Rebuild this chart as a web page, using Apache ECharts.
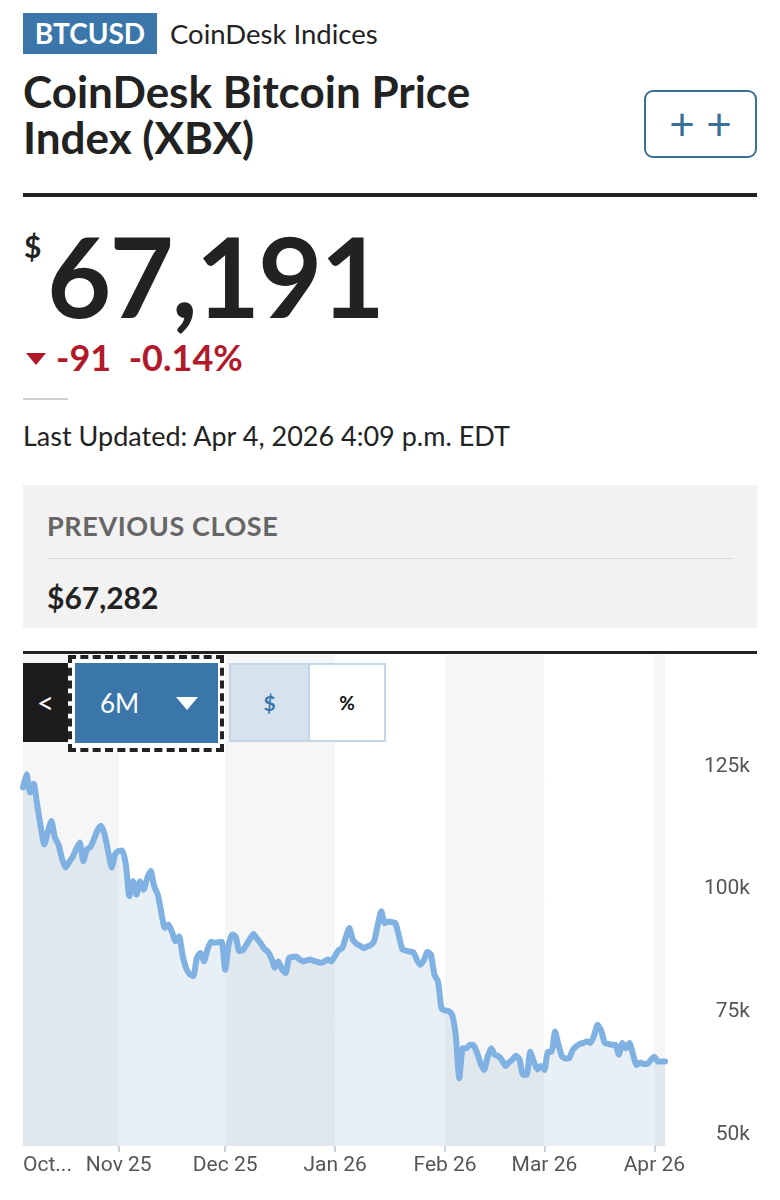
<!DOCTYPE html>
<html>
<head>
<meta charset="utf-8">
<script src="https://cdn.jsdelivr.net/npm/echarts@6/dist/echarts.min.js"></script>
<style>
  body { margin: 0; width: 780px; height: 1200px; background: #fff; font-family: Lato, "Noto Sans", sans-serif; color: #222; position: relative; overflow: hidden; }
  .abs { position: absolute; }
  .badge { left: 23px; top: 13px; width: 134px; height: 41px; background: #3a76aa; color: #fff; font-weight: bold; font-size: 28px; line-height: 41px; text-align: center; }
  .provider { left: 170px; top: 13px; font-size: 27.5px; line-height: 41px; }
  .title { left: 23px; top: 68px; font-size: 44px; font-weight: bold; line-height: 46px; }
  .addbtn { left: 644px; top: 90px; width: 109px; height: 64px; border: 2px solid #3a6f98; border-radius: 9px; color: #3a6f98; font-size: 44px; line-height: 62px; text-align: center; }
  .rule { left: 23px; width: 734px; background: #222; }
  .dollar { left: 24px; top: 228px; font-size: 30px; font-weight: bold; }
  .price { left: 47px; top: 205px; font-size: 111px; font-weight: bold; line-height: 140px; letter-spacing: -2px; }
  .change { left: 26px; top: 335px; font-size: 36px; font-weight: bold; color: #b2192b; line-height: 44px; }
  .tri { display: inline-block; width: 0; height: 0; border-left: 10px solid transparent; border-right: 10px solid transparent; border-top: 12px solid #b2192b; margin-right: 10px; vertical-align: middle; position: relative; top: -3px; }
  .updated { left: 23px; top: 419px; font-size: 27px; line-height: 34px; }
  .prevbox { left: 23px; top: 485px; width: 734px; height: 143px; background: #f2f2f2; }
  .prevlabel { left: 24px; top: 24px; font-size: 27px; font-weight: bold; color: #666; letter-spacing: 0.6px; line-height: 34px; }
  .prevline { left: 24px; top: 73px; width: 686px; height: 1px; background: #d8d8d8; }
  .prevval { left: 24px; top: 94px; font-size: 30px; font-weight: bold; line-height: 36px; }
  #chart { position: absolute; left: 0; top: 640px; width: 780px; height: 560px; }
  .ctl { z-index: 5; }
  .back { left: 23px; top: 663px; width: 45px; height: 79px; background: #1c1c1c; color: #fff; font-size: 30px; line-height: 79px; text-align: center; }
  .focus { left: 68px; top: 655px; width: 148px; height: 89px; border: 4px dashed #222; background: #fff; }
  .range { left: 75px; top: 663px; width: 143px; height: 80px; background: #3a76aa; color: #fff; }
  .range .lbl { position: absolute; left: 25px; top: 0; font-size: 26px; line-height: 80px; }
  .range .dd { position: absolute; left: 101px; top: 34px; width: 0; height: 0; border-left: 11px solid transparent; border-right: 11px solid transparent; border-top: 13px solid #fff; }
  .toggle { left: 229px; top: 663px; width: 153px; height: 75px; border: 2px solid #c5d7e7; background: #fff; }
  .toggle .usd { position: absolute; left: 0; top: 0; width: 77px; height: 75px; background: #d6e3ee; border-right: 2px solid #c5d7e7; color: #3a76aa; font-weight: bold; font-size: 21px; line-height: 75px; text-align: center; }
  .toggle .pct { position: absolute; left: 79px; top: 0; width: 74px; height: 75px; color: #111; font-weight: bold; font-size: 19px; line-height: 75px; text-align: center; }
</style>
</head>
<body>
<div class="abs badge">BTCUSD</div>
<div class="abs provider">CoinDesk Indices</div>
<div class="abs title">CoinDesk Bitcoin Price<br>Index (XBX)</div>
<div class="abs addbtn">+ +</div>
<div class="abs rule" style="top:193px;height:4px;"></div>
<div class="abs dollar">$</div>
<div class="abs price">67,191</div>
<div class="abs change"><span class="tri"></span>-91&nbsp;&nbsp;-0.14%</div>
<div class="abs" style="left:23px;top:398px;width:45px;height:2px;background:#cfcfcf;"></div>
<div class="abs updated">Last Updated: Apr 4, 2026 4:09 p.m. EDT</div>
<div class="abs prevbox">
  <div class="abs prevlabel">PREVIOUS CLOSE</div>
  <div class="abs prevline"></div>
  <div class="abs prevval">$67,282</div>
</div>
<div class="abs rule" style="top:651px;height:3px;"></div>
<div id="chart"></div>
<div class="abs ctl back">&lt;</div>
<div class="abs ctl focus"></div>
<div class="abs ctl range"><span class="lbl">6M</span><span class="dd"></span></div>
<div class="abs ctl toggle"><div class="usd">$</div><div class="pct">%</div></div>

<script>
// daily closes, $k, Oct 5 2025 .. Apr 4 2026
var startDate = '2025-10-05';
var prices = [
  123.0, 125.7, 122.0, 123.8, 119.5, 115.0, 111.4, 114.0, 116.2, 112.8,
  111.4, 108.5, 106.7, 107.8, 108.9, 110.5, 111.8, 108.0, 110.4, 110.9,
  112.5, 114.3, 115.2, 113.5, 110.0, 106.7, 109.5, 110.1, 110.2, 107.3,
  100.9, 103.9, 101.2, 103.9, 102.2, 104.5, 106.0, 102.9, 101.2, 97.5,
  94.4, 95.1, 93.6, 91.7, 92.7, 88.8, 86.2, 85.0, 84.6, 88.3,
  89.3, 87.6, 90.0, 91.6, 91.4, 91.5, 91.6, 85.9, 91.0, 93.1,
  92.6, 89.7, 89.9, 91.0, 92.2, 93.2, 92.2, 91.3, 90.2, 89.6,
  88.3, 86.3, 87.6, 86.0, 85.2, 88.3, 88.5, 88.6, 88.0, 87.6,
  87.8, 88.0, 87.7, 87.5, 87.3, 87.6, 88.0, 87.6, 88.8, 89.9,
  90.3, 92.5, 94.4, 92.0, 91.2, 90.8, 90.3, 90.6, 90.9, 91.7,
  95.0, 97.8, 95.4, 95.7, 95.6, 95.4, 92.7, 90.0, 89.8, 89.6,
  89.5, 88.0, 86.9, 87.8, 89.5, 89.0, 84.9, 83.5, 78.0, 77.6,
  77.5, 76.7, 72.5, 63.8, 69.9, 69.9, 70.6, 70.5, 69.0, 66.8,
  65.5, 68.2, 69.9, 68.6, 68.3, 67.5, 66.3, 67.0, 67.6, 68.4,
  67.6, 64.5, 64.5, 69.2, 67.2, 65.6, 66.3, 65.5, 69.2, 69.2,
  73.3, 70.5, 68.2, 67.8, 67.9, 69.6, 70.3, 70.8, 71.0, 71.3,
  71.0, 72.5, 74.7, 73.5, 71.0, 70.8, 70.6, 70.6, 68.6, 71.0,
  69.9, 71.0, 68.6, 66.5, 67.0, 66.7, 66.7, 67.5, 68.2, 67.2,
  67.2, 67.2
];
var monthLabels = { '2025-11': 'Nov 25', '2025-12': 'Dec 25', '2026-01': 'Jan 26', '2026-02': 'Feb 26', '2026-03': 'Mar 26', '2026-04': 'Apr 26' };
var firstLabel = 'Oct...';
var yMin = 50, yMax = 150, yStep = 25;

var dates = [];
var d0 = new Date(startDate + 'T12:00:00Z');
for (var i = 0; i < prices.length; i++) {
  var d = new Date(d0.getTime() + i * 86400000);
  dates.push(d.toISOString().slice(0, 10));
}
var last = dates.length - 1;
function isMonthStart(v) { return v.slice(8) === '01'; }

var chart = echarts.init(document.getElementById('chart'));
chart.setOption({
  animation: false,
  grid: { left: 23, right: 115, top: 15, bottom: 54 },
  xAxis: {
    type: 'category',
    data: dates,
    boundaryGap: false,
    axisLine: { show: false },
    axisTick: {
      show: true,
      interval: function (i, v) { return isMonthStart(v); },
      length: 6,
      lineStyle: { color: '#c9d3dc', width: 2 }
    },
    axisLabel: {
      interval: function (i, v) { return i === 0 || isMonthStart(v); },
      formatter: function (v, i) { return i === 0 ? firstLabel : monthLabels[v.slice(0, 7)]; },
      alignMinLabel: 'left',
      color: '#555',
      fontSize: 21,
      fontFamily: 'Roboto',
      margin: 9
    },
    splitLine: { show: false },
    splitArea: {
      show: true,
      interval: function (i, v) { return i === 0 || i === last || isMonthStart(v); },
      areaStyle: { color: ['#f6f6f6', '#ffffff'] }
    }
  },
  yAxis: {
    type: 'value',
    position: 'right',
    min: yMin,
    max: yMax,
    interval: yStep,
    axisLine: { show: false },
    axisTick: { show: false },
    axisLabel: {
      formatter: '{value}k',
      showMaxLabel: false,
      align: 'right',
      verticalAlign: 'bottom',
      padding: [0, 0, 1, 0],
      margin: 85,
      color: '#555',
      fontSize: 21,
      fontFamily: 'Roboto'
    },
    splitLine: {
      show: true,
      showMinLine: false,
      showMaxLine: false,
      lineStyle: { color: '#e0e0e0', width: 2 }
    }
  },
  series: [{
    type: 'line',
    data: prices,
    symbol: 'none',
    smooth: 0.2,
    lineStyle: { color: '#7fb1e2', width: 6, join: 'round', cap: 'round' },
    areaStyle: { color: 'rgba(105,160,195,0.22)' }
  }]
});
</script>
</body>
</html>
